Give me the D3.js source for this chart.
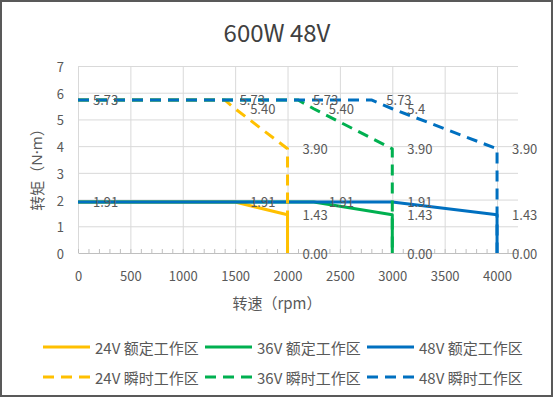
<!DOCTYPE html>
<html><head><meta charset="utf-8">
<script src="https://cdn.jsdelivr.net/npm/d3@7/dist/d3.min.js"></script>
<style>
html,body{margin:0;padding:0;background:#fff;}
svg{display:block;font-family:"Noto Sans CJK SC","Noto Sans",sans-serif;}
</style></head>
<body><svg id="c" width="554" height="398"></svg>
<script>
const title = "600W 48V";
const xTitle = "转速（rpm）";
const yTitleParts = ["转矩（","N·m","）"];
const xTicks = [0,500,1000,1500,2000,2500,3000,3500,4000];
const yTicks = [0,1,2,3,4,5,6,7];

const rated24Speed = [0,1500,2000,2000];
const rated24Torque = [1.91,1.91,1.43,0];
const rated24Labels = ["1.91","1.91","1.43","0.00"];
const rated36Speed = [0,2250,3000,3000];
const rated36Torque = [1.91,1.91,1.43,0];
const rated36Labels = ["1.91","1.91","1.43","0.00"];
const rated48Speed = [0,3000,4000,4000];
const rated48Torque = [1.91,1.91,1.43,0];
const rated48Labels = ["1.91","1.91","1.43","0.00"];

const peak24Speed = [0,1400,1500,2000,2000];
const peak24Torque = [5.73,5.73,5.40,3.90,0];
const peak24Labels = ["5.73","5.73","5.40","3.90","0.00"];
const peak36Speed = [0,2100,2250,3000,3000];
const peak36Torque = [5.73,5.73,5.40,3.90,0];
const peak36Labels = ["5.73","5.73","5.40","3.90","0.00"];
const peak48Speed = [0,2800,3000,4000,4000];
const peak48Torque = [5.73,5.73,5.40,3.90,0];
const peak48Labels = ["5.73","5.73","5.4","3.90","0.00"];

const seriesNames = ["24V 额定工作区","36V 额定工作区","48V 额定工作区","24V 瞬时工作区","36V 瞬时工作区","48V 瞬时工作区"];
const seriesColors = ["#FFC000","#00B050","#0070C0","#FFC000","#00B050","#0070C0"];

const series = [
  {name:seriesNames[0], color:seriesColors[0], dashed:false, xs:rated24Speed, ys:rated24Torque, labels:rated24Labels},
  {name:seriesNames[1], color:seriesColors[1], dashed:false, xs:rated36Speed, ys:rated36Torque, labels:rated36Labels},
  {name:seriesNames[2], color:seriesColors[2], dashed:false, xs:rated48Speed, ys:rated48Torque, labels:rated48Labels},
  {name:seriesNames[3], color:seriesColors[3], dashed:true, xs:peak24Speed, ys:peak24Torque, labels:peak24Labels},
  {name:seriesNames[4], color:seriesColors[4], dashed:true, xs:peak36Speed, ys:peak36Torque, labels:peak36Labels},
  {name:seriesNames[5], color:seriesColors[5], dashed:true, xs:peak48Speed, ys:peak48Torque, labels:peak48Labels}
];

const svg = d3.select("#c");
const textColor = "#595959";
const gridColor = "#d9d9d9";
const axisColor = "#bfbfbf";
const dash = "11,7";

svg.append("rect").attr("x",1).attr("y",1).attr("width",551).attr("height",395)
  .attr("fill","#fff").attr("stroke","#595959").attr("stroke-width",2);

const L = 78, R = 518, T = 66, B = 253;
const x = d3.scaleLinear().domain([0,4200]).range([L,R]);
const y = d3.scaleLinear().domain([0,7]).range([B,T]);

// title
svg.append("text").attr("x",277).attr("y",31).attr("text-anchor","middle")
  .attr("dominant-baseline","central").attr("font-size",24).attr("fill","#404040").text(title);

// horizontal gridlines
const gy = svg.append("g").attr("transform",`translate(${L},0)`)
  .call(d3.axisLeft(y).tickValues(yTicks.filter(v=>v>0)).tickSize(-(R-L)).tickFormat(""));
gy.select(".domain").remove();
gy.selectAll("line").attr("stroke",gridColor).attr("stroke-width",1);

// vertical gridlines
const gx = svg.append("g").attr("transform",`translate(0,${B})`)
  .call(d3.axisBottom(x).tickValues(xTicks).tickSize(-(B-T)).tickFormat(""));
gx.select(".domain").remove();
gx.selectAll("line").attr("stroke",gridColor).attr("stroke-width",1);

// x axis line with minor ticks
const minor = d3.range(0,4201,100);
const ax = svg.append("g").attr("transform",`translate(0,${B})`)
  .call(d3.axisBottom(x).tickValues(minor).tickSize(-4).tickSizeOuter(0).tickFormat(""));
ax.select(".domain").attr("stroke",axisColor);
ax.selectAll("line").attr("stroke",axisColor);

// x tick labels
const xl = svg.append("g").attr("transform",`translate(0,${B})`)
  .call(d3.axisBottom(x).tickValues(xTicks).tickSize(0).tickPadding(22).tickFormat(d3.format("d")));
xl.select(".domain").remove();
xl.selectAll("text").attr("font-size",13).attr("fill",textColor)
  .attr("font-family","'Noto Sans CJK SC','Noto Sans',sans-serif").attr("dy",null).attr("dominant-baseline","central").attr("y",22);

// y tick labels
const yl = svg.append("g").attr("transform",`translate(${L},0)`)
  .call(d3.axisLeft(y).tickValues(yTicks).tickSize(0).tickPadding(14).tickFormat(d3.format("d")));
yl.select(".domain").remove();
yl.selectAll("text").attr("font-size",13).attr("fill",textColor)
  .attr("font-family","'Noto Sans CJK SC','Noto Sans',sans-serif").attr("dy",null).attr("dominant-baseline","central");

// axis titles
svg.append("text").attr("x",277).attr("y",302).attr("text-anchor","middle")
  .attr("dominant-baseline","central").attr("font-size",15).attr("fill",textColor).text(xTitle);
const yt = svg.append("text").attr("transform","translate(36,166) rotate(-90)").attr("text-anchor","middle")
  .attr("dominant-baseline","central").attr("font-size",15).attr("fill",textColor);
yt.append("tspan").text(yTitleParts[0]);
yt.append("tspan").attr("font-family","'Noto Sans',sans-serif").text(yTitleParts[1]);
yt.append("tspan").text(yTitleParts[2]);

// lines
const line = d3.line().x(d=>x(d[0])).y(d=>y(d[1]));
series.forEach(s=>{
  const pts = s.xs.map((v,i)=>[v,s.ys[i]]);
  svg.append("path").attr("d",line(pts)).attr("fill","none").attr("stroke",s.color)
    .attr("stroke-width",3).attr("stroke-linejoin","round")
    .attr("stroke-dasharray",s.dashed?dash:null);
});

// data labels (identical labels at identical points drawn once)
const seen = new Set();
series.forEach(s=>{
  s.xs.forEach((v,i)=>{
    const key = v+"|"+s.ys[i]+"|"+s.labels[i];
    if (seen.has(key)) return;
    seen.add(key);
    svg.append("text").attr("x",x(v)+15).attr("y",y(s.ys[i]))
      .attr("dominant-baseline","central").attr("font-size",13).attr("fill",textColor)
      .text(s.labels[i]);
  });
});

// legend
const legX = [43,205,367];
const legY = [347,377];
series.forEach((s,i)=>{
  const col = i%3, row = Math.floor(i/3);
  const lx = legX[col], ly = legY[row];
  svg.append("line").attr("x1",lx).attr("x2",lx+47).attr("y1",ly).attr("y2",ly)
    .attr("stroke",s.color).attr("stroke-width",3).attr("stroke-dasharray",s.dashed?dash:null);
  svg.append("text").attr("x",lx+52).attr("y",ly).attr("dominant-baseline","central")
    .attr("font-size",15).attr("fill",textColor).text(s.name);
});
</script></body></html>
